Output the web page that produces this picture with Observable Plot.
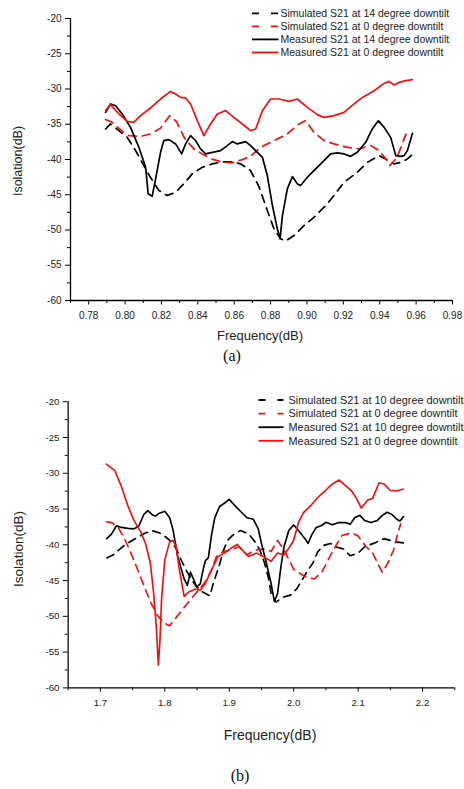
<!DOCTYPE html>
<html>
<head>
<meta charset="utf-8">
<script src="https://cdn.jsdelivr.net/npm/d3@7"></script>
<script src="https://cdn.jsdelivr.net/npm/@observablehq/plot@0.6"></script>
<style>
  html, body { margin: 0; padding: 0; background: #fff; }
  #page { position: relative; width: 464px; height: 789px; overflow: hidden; background: #fff; }
  .chart { position: absolute; left: 0; }
  #overlay { position: absolute; left: 0; top: 0; pointer-events: none; }
</style>
</head>
<body>
<div id="page">
  <div id="chartA" class="chart" style="top:0px"></div>
  <div id="chartB" class="chart" style="top:380px"></div>
</div>
<script>
// ---------------- DATA: chart (a) ----------------
const aLegend = [
  "Simulated S21 at 14 degree downtilt",
  "Simulated S21 at 0 degree downtilt",
  "Measured S21 at 14 degree downtilt",
  "Measured S21 at 0 degree downtilt"
];
const aXTicks = [0.78, 0.80, 0.82, 0.84, 0.86, 0.88, 0.90, 0.92, 0.94, 0.96, 0.98];
const aXMinor = [0.77, 0.79, 0.81, 0.83, 0.85, 0.87, 0.89, 0.91, 0.93, 0.95, 0.97];
const yTicks = [-60, -55, -50, -45, -40, -35, -30, -25, -20];
const yMinor = [-57.5, -52.5, -47.5, -42.5, -37.5, -32.5, -27.5, -22.5];

const aSim14 = [
  [0.7893,-35.67],[0.792,-34.96],[0.7966,-35.91],[0.8012,-36.86],[0.8058,-38.74],[0.8103,-40.86],
  [0.814,-42.56],[0.8186,-44.4],[0.8232,-45.11],[0.8278,-44.65],[0.8323,-43.46],[0.8369,-42.04],
  [0.8425,-41.1],[0.848,-40.62],[0.8535,-40.33],[0.859,-40.33],[0.8635,-40.62],[0.869,-41.57],
  [0.8736,-43.84],[0.8782,-47.24],[0.8818,-49.79],[0.8855,-51.25],[0.8883,-51.56],[0.8929,-50.78],
  [0.8984,-49.36],[0.9039,-48.19],[0.9112,-46.29],[0.9204,-43.23],[0.9277,-41.81],[0.9332,-40.4],
  [0.9396,-39.45],[0.9433,-39.92],[0.9479,-40.62],[0.9516,-40.4],[0.9552,-39.92],[0.958,-39.31]
];
const aSim0 = [
  [0.7893,-34.32],[0.7929,-34.73],[0.7981,-35.91],[0.8021,-36.61],[0.8085,-36.73],[0.814,-36.37],
  [0.8195,-35.55],[0.8245,-33.78],[0.8283,-34.63],[0.8327,-36.97],[0.8378,-38.5],[0.8426,-39.24],
  [0.848,-39.94],[0.8535,-40.4],[0.859,-40.44],[0.8645,-40.01],[0.869,-39.55],[0.8745,-38.27],
  [0.8818,-37.32],[0.8892,-36.37],[0.8956,-34.96],[0.8993,-34.49],[0.9039,-36.15],[0.9094,-37.32],
  [0.9149,-37.79],[0.9222,-38.27],[0.9286,-38.5],[0.9351,-38.03],[0.9396,-38.74],[0.9442,-40.16],
  [0.9455,-40.86],[0.9488,-39.92],[0.9506,-38.98],[0.9534,-37.08],[0.9552,-35.91]
];
const aMeas14 = [
  [0.7893,-33.31],[0.792,-32.12],[0.7948,-32.37],[0.7984,-33.54],[0.803,-35.44],[0.8076,-38.27],
  [0.8113,-41.1],[0.8127,-44.87],[0.8149,-45.21],[0.8168,-42.75],[0.8195,-38.98],[0.8213,-37.32],
  [0.8241,-37.18],[0.8278,-37.79],[0.8311,-39.21],[0.8333,-37.79],[0.836,-36.61],[0.8388,-37.32],
  [0.8415,-38.5],[0.8443,-39.21],[0.848,-38.98],[0.8525,-38.74],[0.8562,-38.03],[0.859,-37.46],
  [0.8617,-37.79],[0.8663,-37.46],[0.869,-38.03],[0.8727,-38.98],[0.8755,-39.69],[0.8782,-42.28],
  [0.881,-46.53],[0.8837,-49.83],[0.8852,-51.25],[0.8865,-47.95],[0.8892,-44.16],[0.892,-42.42],
  [0.8947,-43.46],[0.8965,-43.7],[0.9002,-42.52],[0.9048,-41.33],[0.9094,-40.16],[0.913,-39.21],
  [0.9167,-39.07],[0.9204,-39.21],[0.924,-39.55],[0.9277,-38.98],[0.9323,-37.56],[0.9359,-35.67],
  [0.9392,-34.49],[0.9424,-35.44],[0.946,-36.86],[0.9488,-39.45],[0.9516,-39.55],[0.9534,-39.45],
  [0.9552,-38.74],[0.958,-36.29]
];
const aMeas0 = [
  [0.7893,-33.07],[0.792,-32.22],[0.7966,-33.54],[0.8012,-34.59],[0.8048,-34.73],[0.8085,-33.78],
  [0.814,-32.69],[0.8195,-31.42],[0.825,-30.34],[0.8278,-30.71],[0.8305,-31.19],[0.8333,-31.27],
  [0.836,-32.12],[0.8397,-34.49],[0.8433,-36.61],[0.847,-34.96],[0.8507,-33.54],[0.8553,-33.07],
  [0.8598,-34.02],[0.8645,-34.96],[0.869,-35.91],[0.8718,-35.67],[0.8755,-33.07],[0.88,-31.42],
  [0.8846,-31.42],[0.8901,-31.76],[0.8947,-31.42],[0.9002,-32.61],[0.9057,-33.64],[0.9094,-34.02],
  [0.9149,-33.78],[0.9204,-33.31],[0.9259,-32.12],[0.9305,-31.19],[0.9369,-30.24],[0.9424,-29.21],
  [0.9451,-28.92],[0.9479,-29.43],[0.9506,-29.07],[0.9543,-28.82],[0.958,-28.68]
];

// ---------------- DATA: chart (b) ----------------
const bLegend = [
  "Simulated S21 at 10 degree downtilt",
  "Simulated S21 at 0 degree downtilt",
  "Measured S21 at 10 degree downtilt",
  "Measured S21 at 0 degree downtilt"
];
const bXTicks = [1.7, 1.8, 1.9, 2.0, 2.1, 2.2];
const bXMinor = [1.65, 1.75, 1.85, 1.95, 2.05, 2.15, 2.25];

const bSim10 = [
  [1.71,-41.84],[1.72,-41.39],[1.7374,-40.04],[1.75,-39.36],[1.7674,-38.46],[1.78,-38.01],
  [1.795,-38.46],[1.8075,-39.36],[1.8175,-40.49],[1.825,-42.07],[1.835,-43.86],[1.8475,-45.68],
  [1.8574,-46.53],[1.87,-47.14],[1.875,-45.45],[1.885,-42.74],[1.89,-40.99],[1.8975,-39.36],
  [1.905,-38.69],[1.9174,-38.01],[1.93,-38.46],[1.94,-39.59],[1.9474,-40.72],[1.955,-42.61],
  [1.9605,-44.5],[1.965,-46.8],[1.9725,-48.01],[1.983,-47.34],[1.995,-47.03],[2.005,-46.12],
  [2.02,-43.86],[2.03,-42.51],[2.0374,-40.95],[2.0475,-40.04],[2.0575,-39.81],[2.065,-40.27],
  [2.0775,-40.58],[2.0875,-41.53],[2.1,-41.16],[2.11,-40.27],[2.1274,-39.68],[2.14,-39.14],
  [2.1574,-39.59],[2.17,-39.73]
];
const bSim0 = [
  [1.71,-36.8],[1.7175,-36.89],[1.7276,-37.57],[1.7374,-39.14],[1.7475,-41.16],[1.7576,-43.42],
  [1.7674,-45.68],[1.7775,-47.92],[1.7876,-49.73],[1.7974,-50.85],[1.8075,-51.32],[1.8175,-50.18],
  [1.8274,-49.05],[1.8375,-47.92],[1.85,-46.57],[1.8625,-45.22],[1.8724,-43.55],[1.88,-41.66],
  [1.89,-40.95],[1.9024,-40.72],[1.915,-40.27],[1.9275,-41.39],[1.94,-40.72],[1.955,-40.58],
  [1.965,-40.92],[1.975,-39.4],[1.985,-40.7],[1.9924,-42.07],[2.0,-43.42],[2.01,-44.0],
  [2.02,-44.54],[2.0325,-44.77],[2.0445,-43.69],[2.0575,-41.39],[2.0675,-39.81],[2.075,-38.69],
  [2.09,-38.32],[2.1,-38.78],[2.1124,-40.27],[2.1225,-41.16],[2.13,-42.51],[2.1375,-43.86],
  [2.1475,-42.3],[2.155,-40.72],[2.16,-38.92],[2.166,-37.07]
];
const bMeas10 = [
  [1.71,-39.14],[1.7175,-38.46],[1.725,-37.34],[1.7325,-37.57],[1.7425,-37.7],[1.7524,-37.78],
  [1.7599,-37.34],[1.7674,-35.76],[1.7734,-35.22],[1.78,-35.76],[1.785,-35.99],[1.7925,-35.54],
  [1.8,-35.31],[1.8075,-36.22],[1.8124,-37.78],[1.8165,-39.81],[1.82,-41.62],[1.825,-43.19],
  [1.83,-44.77],[1.835,-45.68],[1.8397,-43.82],[1.845,-44.91],[1.8495,-45.89],[1.855,-45.45],
  [1.8585,-43.86],[1.863,-42.2],[1.8675,-41.84],[1.8724,-38.69],[1.8775,-36.22],[1.885,-34.64],
  [1.8925,-34.19],[1.9,-33.65],[1.9075,-34.41],[1.9174,-35.31],[1.9275,-36.22],[1.9375,-36.43],
  [1.945,-37.78],[1.95,-39.81],[1.9575,-42.51],[1.965,-45.45],[1.97,-47.92],[1.975,-46.8],
  [1.98,-43.19],[1.985,-40.27],[1.9924,-38.01],[1.9999,-37.24],[2.0074,-38.01],[2.0175,-39.14],
  [2.0224,-39.81],[2.0275,-38.69],[2.035,-37.57],[2.0425,-37.34],[2.05,-36.86],[2.06,-37.2],
  [2.07,-36.89],[2.08,-36.89],[2.0875,-37.11],[2.095,-36.19],[2.1025,-35.89],[2.11,-36.59],
  [2.12,-36.89],[2.13,-36.59],[2.1375,-35.89],[2.145,-35.45],[2.1525,-35.76],[2.16,-36.43],
  [2.165,-36.66],[2.1705,-36.05]
];
const bMeas0 = [
  [1.7095,-28.72],[1.7224,-29.64],[1.7325,-31.8],[1.7425,-34.5],[1.7524,-36.66],[1.7625,-38.15],
  [1.77,-39.81],[1.7775,-42.51],[1.7824,-46.57],[1.7865,-51.08],[1.79,-56.8],[1.7925,-53.32],
  [1.795,-47.47],[1.8,-42.07],[1.8075,-39.59],[1.8124,-39.36],[1.8175,-40.27],[1.8225,-43.42],
  [1.83,-47.2],[1.8375,-46.57],[1.848,-46.19],[1.855,-46.35],[1.8625,-45.45],[1.8724,-43.55],
  [1.8825,-41.66],[1.8925,-41.16],[1.9024,-40.49],[1.9125,-39.95],[1.9225,-40.95],[1.93,-41.62],
  [1.9425,-41.16],[1.9525,-41.62],[1.965,-42.3],[1.975,-41.16],[1.985,-41.39],[1.9924,-40.49],
  [1.9999,-39.36],[2.0074,-36.89],[2.0149,-35.54],[2.0275,-34.41],[2.04,-33.15],[2.05,-32.34],
  [2.06,-31.49],[2.0707,-30.95],[2.08,-31.7],[2.0899,-32.47],[2.0974,-33.51],[2.1049,-34.86],
  [2.115,-33.73],[2.1225,-33.51],[2.1325,-31.32],[2.14,-31.49],[2.15,-32.41],[2.16,-32.47],
  [2.17,-32.2]
];

// ---------------- STYLES ----------------
const FONT = "Arial, 'Liberation Sans', sans-serif";
const RED = "#f01010";
const seriesStyle = [
  {stroke: "#000", dash: "8,6"},
  {stroke: RED, dash: "8,6"},
  {stroke: "#000", dash: null},
  {stroke: RED, dash: null}
];
const rows = arr => arr.map(([f, db]) => ({f, db}));

function lineMarks(seriesList) {
  return seriesList.map((s, i) => Plot.line(rows(s), {
    x: "f", y: "db",
    stroke: seriesStyle[i].stroke,
    strokeWidth: 1.7,
    strokeDasharray: seriesStyle[i].dash,
    strokeLinejoin: "round"
  }));
}

function makeChart(cfg) {
  return Plot.plot({
    width: cfg.width, height: cfg.height,
    marginLeft: 70, marginRight: cfg.marginRight, marginTop: cfg.marginTop, marginBottom: 45,
    style: {fontFamily: FONT, fontSize: "10px", color: "#222", background: "transparent", overflow: "visible"},
    x: {domain: cfg.xDomain},
    y: {domain: [-60, -20]},
    marks: [
      Plot.axisX({ticks: cfg.xMinor, tickSize: 3, tickFormat: () => "", label: null, stroke: "#000"}),
      Plot.axisX({ticks: cfg.xTicks, tickSize: 4.5, tickPadding: cfg.xPad, tickFormat: cfg.xFormat, label: null, stroke: "#000"}),
      Plot.axisY({ticks: yMinor, tickSize: 3, tickFormat: () => "", label: null, stroke: "#000"}),
      Plot.axisY({ticks: yTicks, tickSize: 5, tickPadding: 4, tickFormat: d => String(d), label: null, stroke: "#000"}),
      ...lineMarks(cfg.series),
      Plot.ruleY([-60], {stroke: "#000", strokeWidth: 1.3}),
      Plot.ruleX([cfg.xDomain[0]], {stroke: "#000", strokeWidth: 1.3})
    ]
  });
}

document.getElementById("chartA").appendChild(makeChart({
  width: 464, height: 345, marginRight: 12, marginTop: 18,
  xDomain: [0.77, 0.98], xTicks: aXTicks, xMinor: aXMinor, xFormat: d3.format(".2f"), xPad: 6.5,
  series: [aSim14, aSim0, aMeas14, aMeas0]
}));
document.getElementById("chartB").appendChild(makeChart({
  width: 480, height: 363, marginRight: 10, marginTop: 22,
  xDomain: [1.65, 2.25], xTicks: bXTicks, xMinor: bXMinor, xFormat: d3.format(".1f"), xPad: 7.5,
  series: [bSim10, bSim0, bMeas10, bMeas0]
}));

// ---------------- OVERLAY: titles, legends, captions ----------------
const svg = d3.select("#page").append("svg")
  .attr("id", "overlay").attr("width", 464).attr("height", 789)
  .style("font-family", FONT);

function legend(labels, x1, x2, tx, y0, dy, fs) {
  labels.forEach((lab, i) => {
    const y = y0 + i * dy;
    svg.append("line").attr("x1", x1).attr("x2", x2).attr("y1", y).attr("y2", y)
      .attr("stroke", seriesStyle[i].stroke).attr("stroke-width", 1.8)
      .attr("stroke-dasharray", seriesStyle[i].dash ? "7,12" : null);
    svg.append("text").attr("x", tx).attr("y", y).attr("dy", "0.35em")
      .attr("font-size", fs).attr("fill", "#222").text(lab);
  });
}
legend(aLegend, 252, 278.5, 280.5, 13.3, 13.05, 10.5);
legend(bLegend, 258.5, 283.5, 288.5, 400, 13.6, 10.9);

function ytitle(y, fs) {
  svg.append("text").attr("transform", `translate(18,${y}) rotate(-90)`)
    .attr("text-anchor", "middle").attr("dy", "0.35em")
    .attr("font-size", fs).attr("fill", "#222").text("Isolation(dB)");
}
ytitle(161, 12.5);
ytitle(549, 13.5);

function xtitle(x, y, fs) {
  svg.append("text").attr("x", x).attr("y", y).attr("text-anchor", "middle").attr("dy", "0.35em")
    .attr("font-size", fs).attr("fill", "#222").text("Frequency(dB)");
}
xtitle(260, 335, 13);
xtitle(270, 735, 14);

function caption(x, y, t) {
  svg.append("text").attr("x", x).attr("y", y).attr("text-anchor", "middle").attr("dy", "0.35em")
    .attr("font-family", "'Times New Roman', 'Liberation Serif', serif")
    .attr("font-size", 16).attr("fill", "#111").text(t);
}
caption(232, 355, "(a)");
caption(240, 775, "(b)");
</script>
</body>
</html>
